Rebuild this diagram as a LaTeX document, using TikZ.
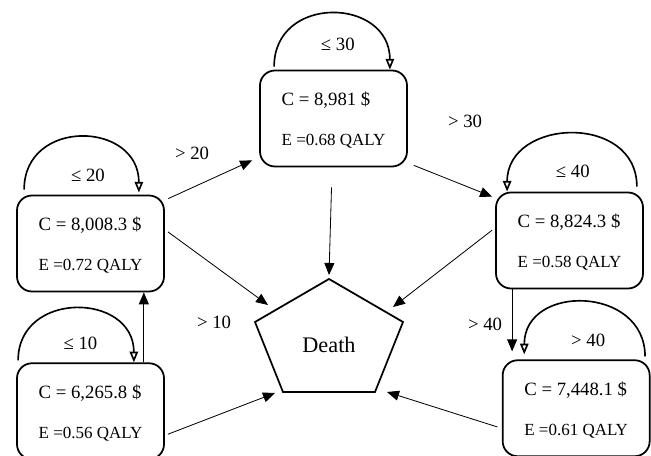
\documentclass[tikz,border=0pt]{standalone}
\usepackage{fontspec}
\setmainfont{Liberation Serif}
\usetikzlibrary{arrows.meta,positioning,calc}

\begin{document}
\begin{tikzpicture}[font=\fontsize{16}{19}\selectfont]
\tikzstyle{state} = [draw, line width=1.5pt, rounded corners=0.45cm, minimum width=4.41cm, minimum height=2.88cm, align=left, font=\fontsize{16}{34}\selectfont]
\tikzstyle{arrow} = [-{Triangle[length=0.36cm, width=0.3cm]}, line width=0.7pt]
\tikzstyle{stay} = [-{Triangle[open, length=0.32cm, width=0.25cm]}, line width=1.4pt]
\useasboundingbox (0,0) rectangle (19.53,13.68);

% states
\node[state] (s20) at (2.715,6.375) {\rule{0pt}{0.5cm}C = 8,008.3 \$\\{\fontsize{14.5}{34}\selectfont E =0.72 QALY}};
\node[state, below=2.1cm of s20] (s10) {\rule{0pt}{0.5cm}C = 6,265.8 \$\\{\fontsize{14.5}{34}\selectfont E =0.56 QALY}};
\node[state] (s30) at (10.005,10.125) {\rule{0pt}{0.5cm}C = 8,981 \$\\{\fontsize{14.5}{34}\selectfont E =0.68 QALY}};
\node[state] (s40) at (17.085,6.465) {\rule{0pt}{0.5cm}C = 8,824.3 \$\\{\fontsize{14.5}{34}\selectfont E =0.58 QALY}};
\node[state, below=2.1cm of s40, xshift=0.2cm] (s50) {\rule{0pt}{0.5cm}C = 7,448.1 \$\\{\fontsize{14.5}{34}\selectfont E =0.61 QALY}};

% death
\coordinate (p1) at (9.87,5.31);
\coordinate (p2) at (12.09,4.02);
\coordinate (p3) at (11.25,1.92);
\coordinate (p4) at (8.49,1.92);
\coordinate (p5) at (7.65,4.02);
\draw[line width=1.5pt] (p1) -- (p2) -- (p3) -- (p4) -- (p5) -- cycle;
\node[font=\fontsize{19}{22}\selectfont] (death) at (9.87,3.345) {Death};
\coordinate (dN) at (9.87,5.43);
\coordinate (dNW) at (8.04,4.53);
\coordinate (dNE) at (11.79,4.47);
\coordinate (dSW) at (8.25,1.89);
\coordinate (dSE) at (11.61,1.92);

% transitions
\draw[arrow] ($(s20.north east)+(0.1,-0.12)$) -- ($(s30.south west)+(-0.21,0.21)$);
\draw[arrow] ($(s30.south east)+(0.18,0.06)$) -- ($(s40.north west)+(-0.09,-0.15)$);
\draw[arrow] ([xshift=1.6cm]s10.north) -- ([xshift=1.6cm]s20.south);
\coordinate (de) at ($(s40.south west)+(0.51,0)$);
\draw[arrow, shorten >=0.24cm] (de) -- (de |- s50.north);
\draw[arrow, shorten <=0.6cm] (s30) -- (dN);
\draw[arrow] ($(s20.east)+(0.09,0.35)$) -- (dNW);
\draw[arrow] ($(s40.west)+(-0.09,0.31)$) -- (dNE);
\draw[arrow] ($(s10.east)+(0.09,-0.69)$) -- (dSW);
\draw[arrow] ($(s50.west)+(-0.135,-0.56)$) -- (dSE);

% staying
\draw[stay] ($(s20.north west)+(0.24,0.15)$) to[out=90, in=90, looseness=1.6] ($(s20.north east)+(-0.78,0.06)$);
\draw[stay] ($(s10.north west)+(0.06,0.06)$) to[out=90, in=90, looseness=1.55] ($(s10.north east)+(-0.93,0)$);
\draw[stay] ($(s30.north west)+(0.45,0.09)$) to[out=90, in=90, looseness=1.6] ($(s30.north east)+(-0.54,0)$);
\draw[stay] ($(s40.north east)+(-0.21,0.15)$) to[out=90, in=90, looseness=1.45] ($(s40.north west)+(0.36,0)$);
\draw[stay] ($(s50.north east)+(-0.165,0.09)$) to[out=90, in=90, looseness=1.5] ($(s50.north west)+(0.675,0.15)$);

% labels
\node (l20) at ($(s20.north)+(-0.075,0.57)$) {≤ 20};
\node (l10) at ($(s10.north)+(-0.3,0.57)$) {≤ 10};
\node (l30) at ($(s30.north)+(0.13,0.75)$) {≤ 30};
\node (l40) at ($(s40.north)+(0.1,0.6)$) {≤ 40};
\node (l50) at ($(s50.north)+(0.36,0.57)$) {> 40};
\node (g20) at (5.76,9.09) {> 20};
\node (g30) at (13.95,10.05) {> 30};
\node (g10) at (6.42,4.02) {> 10};
\node (g40) at (14.55,3.96) {> 40};
\end{tikzpicture}
\end{document}
